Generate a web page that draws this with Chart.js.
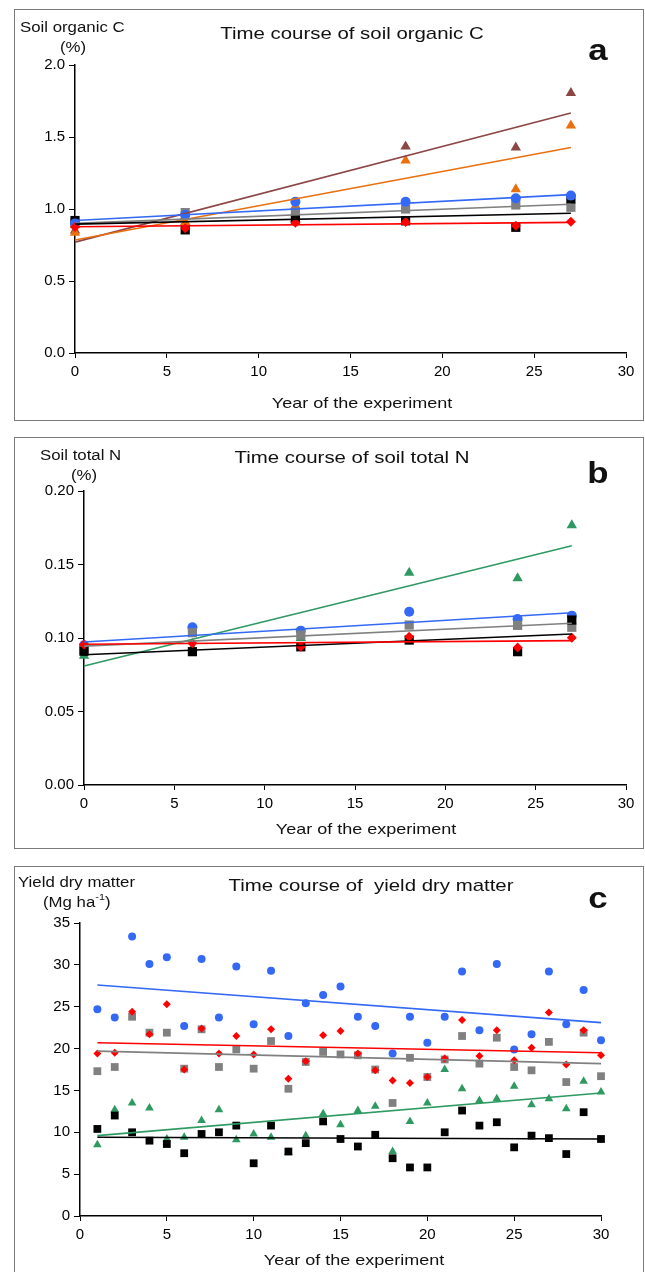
<!DOCTYPE html>
<html><head><meta charset="utf-8">
<script src="https://cdn.jsdelivr.net/npm/chart.js@4.4.1/dist/chart.umd.min.js"></script>
<style>
body{margin:0;width:645px;height:1272px;position:relative;background:#fff;font-family:'Liberation Sans',Arial,sans-serif;color:#111;overflow:hidden}
.panel{position:absolute;border:1px solid #7a7a7a;box-sizing:border-box;left:14px;width:630px}
.cw{position:absolute;left:0;top:0;right:0;bottom:0}
.t{position:absolute;white-space:nowrap;line-height:1}
.c{transform:translate(-50%,-50%) scaleX(1.2)}
.l{transform:translateY(-50%) scaleX(1.2);transform-origin:left center}
.title{font-size:17px}
.ax{font-size:14px}
.xt{font-size:15px}
.let{font-size:29px;font-weight:bold}
sup{font-size:9px;vertical-align:top;position:relative;top:-2px}
</style></head><body>

<div class="panel" style="top:9px;height:412px"><div class="cw"><canvas id="ca"></canvas></div></div>
<div class="panel" style="top:437px;height:412px"><div class="cw"><canvas id="cb"></canvas></div></div>
<div class="panel" style="top:866px;height:420px"><div class="cw"><canvas id="cc"></canvas></div></div>

<!-- panel a texts -->
<div class="t c title" style="left:352px;top:33px">Time course of soil organic C</div>
<div class="t l ax" style="left:20px;top:27px">Soil organic C</div>
<div class="t c ax" style="left:73px;top:47px">(%)</div>
<div class="t c let" style="left:598px;top:50px">a</div>
<div class="t c xt" style="left:362px;top:402px">Year of the experiment</div>

<!-- panel b texts -->
<div class="t c title" style="left:352px;top:457px">Time course of soil total N</div>
<div class="t l ax" style="left:40px;top:455px">Soil total N</div>
<div class="t c ax" style="left:84px;top:475px">(%)</div>
<div class="t c let" style="left:598px;top:473px">b</div>
<div class="t c xt" style="left:366px;top:828px">Year of the experiment</div>

<!-- panel c texts -->
<div class="t c title" style="left:371px;top:885px">Time course of&nbsp; yield dry matter</div>
<div class="t l ax" style="left:18px;top:882px">Yield dry matter</div>
<div class="t l ax" style="left:43px;top:902px">(Mg ha<sup>-1</sup>)</div>
<div class="t c let" style="left:598px;top:898px">c</div>
<div class="t c xt" style="left:354px;top:1259px">Year of the experiment</div>

<script>
// ---------- colours ----------
const BLUE = '#3369F5', RED = '#FF0000', GRAY = '#808080', BLACK = '#000000',
      GREEN = '#2E9A62', ORANGE = '#E8700F', BROWN = '#8C4646';

// ---------- panel a: soil organic C (%) ----------
const YEARS_AB = [0, 6, 12, 18, 24, 27];
const SOC_BLACK  = [0.92, 0.855, 0.93, 0.918, 0.873, 1.07];
const SOC_RED    = [0.875, 0.866, 0.905, 0.91, 0.884, 0.912];
const SOC_GRAY   = [0.90, 0.975, 0.98, 1.00, 1.028, 1.012];
const SOC_BLUE   = [0.90, 0.96, 1.05, 1.05, 1.074, 1.093];
const SOC_ORANGE = [0.835, 0.91, 1.02, 1.336, 1.137, 1.58];
const SOC_BROWN  = [0.85, 0.95, 0.93, 1.434, 1.427, 1.805];
const TREND_X_AB = [0, 27];
const SOC_TREND_BLACK  = [0.895, 0.97];
const SOC_TREND_RED    = [0.877, 0.907];
const SOC_TREND_GRAY   = [0.90, 1.033];
const SOC_TREND_BLUE   = [0.92, 1.10];
const SOC_TREND_ORANGE = [0.785, 1.427];
const SOC_TREND_BROWN  = [0.77, 1.666];

// ---------- panel b: soil total N (%) ----------
const TN_BLUE  = [0.095, 0.1073, 0.105, 0.1179, 0.1129, 0.1152];
const TN_GRAY  = [0.0918, 0.1036, 0.102, 0.1088, 0.1086, 0.1073];
const TN_BLACK = [0.091, 0.0907, 0.094, 0.0986, 0.0907, 0.1122];
const TN_RED   = [0.0955, 0.0964, 0.094, 0.1009, 0.0936, 0.1002];
const TN_GREEN = [0.088, 0.093, 0.100, 0.1444, 0.1406, 0.1767];
const TN_TREND_BLUE  = [0.0973, 0.1172];
const TN_TREND_GRAY  = [0.0945, 0.110];
const TN_TREND_BLACK = [0.0886, 0.1027];
const TN_TREND_RED   = [0.0957, 0.0982];
const TN_TREND_GREEN = [0.081, 0.1628];

// ---------- panel c: yield dry matter (Mg ha-1) ----------
const YEARS_C = [1,2,3,4,5,6,7,8,9,10,11,12,13,14,15,16,17,18,19,20,21,22,23,24,25,26,27,28,29,30];
const Y_BLUE  = [24.7,23.7,33.4,30.1,30.9,22.7,30.7,23.7,29.8,22.9,29.3,21.5,25.4,26.4,27.4,23.8,22.7,19.4,23.8,20.7,23.8,29.2,22.2,30.1,19.9,21.7,29.2,22.9,27.0,21.0];
const Y_RED   = [19.4,19.5,24.4,21.7,25.3,17.5,22.4,19.4,21.5,19.3,22.3,16.4,18.5,21.6,22.1,19.4,17.4,16.2,15.9,16.6,18.8,23.4,19.1,22.2,18.6,20.1,24.3,18.1,22.2,19.2];
const Y_GRAY  = [17.3,17.8,23.8,21.9,21.9,17.6,22.3,17.8,19.9,17.6,20.9,15.2,18.4,19.6,19.3,19.2,17.5,13.5,18.9,16.6,18.7,21.5,18.2,21.3,17.8,17.4,20.8,16.0,21.9,16.7];
const Y_GREEN = [8.5,12.7,13.5,12.9,9.2,9.4,11.4,12.7,9.1,9.8,9.4,7.6,9.6,12.2,10.9,12.6,13.1,7.7,11.3,13.5,17.5,15.2,13.8,14.0,15.5,13.3,14.0,12.8,16.1,14.8];
const Y_BLACK = [10.4,12.0,10.0,9.0,8.6,7.5,9.8,10.0,10.8,6.3,10.8,7.7,8.7,11.3,9.2,8.3,9.7,6.9,5.8,5.8,10.0,12.6,10.8,11.2,8.2,9.6,9.3,7.4,12.4,9.2];
const TREND_X_C = [1, 30];
const Y_TREND_BLUE  = [27.6, 23.1];
const Y_TREND_RED   = [20.7, 19.5];
const Y_TREND_GRAY  = [19.7, 18.2];
const Y_TREND_GREEN = [9.6, 14.7];
const Y_TREND_BLACK = [9.4, 9.2];

// ---------- helpers ----------
const TICK_FONT = {family: "'Liberation Sans', Arial, sans-serif", size: 15};
function pts(xs, ys){ return xs.map((x,i)=>({x:x, y:ys[i]})); }
function marks(xs, ys, color, style, r){
  return {type:'scatter', data:pts(xs,ys), pointStyle:style, pointRadius:r, pointHoverRadius:r,
          backgroundColor:color, borderColor:color, borderWidth:0, showLine:false, clip:false};
}
function trend(xs, ys, color){
  return {type:'line', data:pts(xs,ys), borderColor:color, borderWidth:1.6, pointRadius:0, fill:false, tension:0, clip:false};
}
function makeChart(id, datasets, ymax, ystep, decimals, L){
  return new Chart(document.getElementById(id), {
    type:'scatter',
    data:{datasets:datasets},
    options:{
      responsive:true, maintainAspectRatio:false, animation:false, events:[],
      layout:{padding:{top:L.top, right:L.right, left:0, bottom:0}},
      plugins:{legend:{display:false}, tooltip:{enabled:false}, title:{display:false}},
      scales:{
        x:{type:'linear', min:0, max:30,
           ticks:{stepSize:5, font:TICK_FONT, color:'#000', padding:5, maxRotation:0},
           grid:{display:true, drawOnChartArea:false, drawTicks:true, tickLength:5, color:'#000'},
           border:{display:true, color:'#000', width:1.5},
           afterFit:s=>{ s.height = L.xh; }},
        y:{type:'linear', min:0, max:ymax,
           ticks:{stepSize:ystep, font:TICK_FONT, color:'#000', padding:4,
                  callback:v=>Number(v).toFixed(decimals)},
           grid:{display:true, drawOnChartArea:false, drawTicks:true, tickLength:6, color:'#000'},
           border:{display:true, color:'#000', width:1.5},
           afterFit:s=>{ s.width = L.left; }}
      }
    }
  });
}

// ---------- panel a ----------
makeChart('ca', [
  trend(TREND_X_AB, SOC_TREND_RED, RED),
  trend(TREND_X_AB, SOC_TREND_BLACK, BLACK),
  trend(TREND_X_AB, SOC_TREND_GRAY, GRAY),
  trend(TREND_X_AB, SOC_TREND_BLUE, BLUE),
  trend(TREND_X_AB, SOC_TREND_ORANGE, ORANGE),
  trend(TREND_X_AB, SOC_TREND_BROWN, BROWN),
  marks(YEARS_AB, SOC_RED, RED, 'rectRot', 5),
  marks(YEARS_AB, SOC_BLUE, BLUE, 'circle', 5),
  marks(YEARS_AB, SOC_BLACK, BLACK, 'rect', 6.5),
  marks(YEARS_AB, SOC_GRAY, GRAY, 'rect', 6.5),
  marks(YEARS_AB, SOC_ORANGE, ORANGE, 'triangle', 6),
  marks(YEARS_AB, SOC_BROWN, BROWN, 'triangle', 6)
], 2, 0.5, 1, {left:60, right:17, top:55, xh:67});

// ---------- panel b ----------
makeChart('cb', [
  trend(TREND_X_AB, TN_TREND_RED, RED),
  trend(TREND_X_AB, TN_TREND_BLACK, BLACK),
  trend(TREND_X_AB, TN_TREND_GRAY, GRAY),
  trend(TREND_X_AB, TN_TREND_BLUE, BLUE),
  trend(TREND_X_AB, TN_TREND_GREEN, GREEN),
  marks(YEARS_AB, TN_RED, RED, 'rectRot', 5),
  marks(YEARS_AB, TN_BLACK, BLACK, 'rect', 6.5),
  marks(YEARS_AB, TN_GRAY, GRAY, 'rect', 6.5),
  marks(YEARS_AB, TN_BLUE, BLUE, 'circle', 5),
  marks(YEARS_AB, TN_GREEN, GREEN, 'triangle', 6)
], 0.2, 0.05, 2, {left:69, right:17, top:53, xh:63});

// ---------- panel c ----------
makeChart('cc', [
  trend(TREND_X_C, Y_TREND_RED, RED),
  trend(TREND_X_C, Y_TREND_BLACK, BLACK),
  trend(TREND_X_C, Y_TREND_GRAY, GRAY),
  trend(TREND_X_C, Y_TREND_BLUE, BLUE),
  trend(TREND_X_C, Y_TREND_GREEN, GREEN),
  marks(YEARS_C, Y_RED, RED, 'rectRot', 4),
  marks(YEARS_C, Y_BLACK, BLACK, 'rect', 5.5),
  marks(YEARS_C, Y_GRAY, GRAY, 'rect', 5.5),
  marks(YEARS_C, Y_BLUE, BLUE, 'circle', 4),
  marks(YEARS_C, Y_GREEN, GREEN, 'triangle', 5)
], 35, 5, 0, {left:65, right:42, top:56, xh:69});
</script>
</body></html>
